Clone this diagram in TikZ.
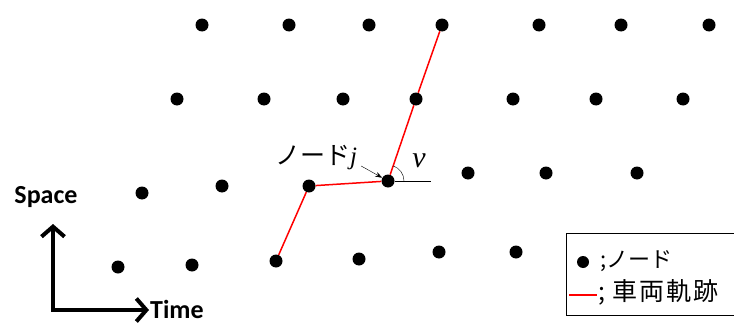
\documentclass[tikz,border=0pt]{standalone}
\usepackage{fontspec}
\setmainfont{Liberation Serif}
\newfontfamily\jpfont{Noto Sans CJK JP}
\newfontfamily\axfont{Carlito}
\usetikzlibrary{positioning,arrows.meta}
\tikzset{
  dot/.style={circle, fill=black, inner sep=0pt, minimum size=13pt},
  traj/.style={red, line width=1.5pt},
  axarr/.style={line width=4pt, line join=miter,
                {Straight Barb[length=10pt, width=23pt]}-{Straight Barb[length=10pt, width=23pt]}},
  axlbl/.style={font=\axfont\bfseries\fontsize{26}{28}\selectfont, inner sep=0pt},
  jplbl/.style={font=\jpfont\fontsize{22}{24}\selectfont, inner sep=0pt},
}

\begin{document}
\begin{tikzpicture}[x=1pt, y=-1pt]
\useasboundingbox (0,0) rectangle (734,324);

% grid of nodes, top row first
\foreach \x [count=\i] in {202,289,369,442,539,621,709}
  \node[dot] (a\i) at (\x,25) {};
\foreach \x [count=\i] in {177,264,343,416,513,596,683}
  \node[dot] (b\i) at (\x,99) {};
\foreach \x/\y [count=\i] in {142/193,222/186,309/186,388/181,468/173,546/173,637/173}
  \node[dot] (c\i) at (\x,\y) {};
\foreach \x/\y [count=\i] in {118/267,192/265,276/261,359/259,439/252,516/252}
  \node[dot] (d\i) at (\x,\y) {};

% vehicle trajectory
\draw[traj] (d3) -- (c3) -- (c4) -- (b4) -- (a4);

% angle at node j
\coordinate (href) at (431,181);
\draw[thin] (c4) -- (href);
\draw[thin] ([shift={(16,0)}]c4.center) arc[start angle=0, end angle=-71, radius=16];
\node[font=\itshape\fontsize{30}{32}\selectfont, inner sep=0pt] (nu) at (419,161) {ν};

% label of node j
\node[jplbl] (lblj) at (316,158) {\fontsize{25}{27}\selectfont ノード{\rmfamily\itshape j}};
\draw[-{Stealth[length=7pt, width=5pt]}, thin] ([shift={(4,8)}]lblj.east) -- (c4);

% axes
\coordinate (org) at (53,310);
\coordinate (sp) at (53,224);
\coordinate (tm) at (149,310);
\draw[axarr] (sp) -- (org) -- (tm);
\node[axlbl] (space) at (46,197) {Space};
\node[axlbl, anchor=base west] (time) at (150,318) {Time};

% legend
\node[draw, line width=1.2pt, minimum width=180pt, minimum height=82pt,
      anchor=north west, inner sep=0pt] (lgbox) at (566,233) {};
\node[dot, minimum size=12pt] (lgdot) at (583,262) {};
\node[jplbl, anchor=west] (lgnode) at (600,261) {;ノード};
\coordinate (lgl) at (569,295);
\coordinate (lgr) at (597,295);
\draw[red, line width=2.5pt] (lgl) -- (lgr);
\node[font=\jpfont\addfontfeature{LetterSpace=8}\fontsize{25}{27}\selectfont,
      inner sep=0pt, anchor=west] (lgtraj) at (598,292) {; 車両軌跡};
\end{tikzpicture}
\end{document}
